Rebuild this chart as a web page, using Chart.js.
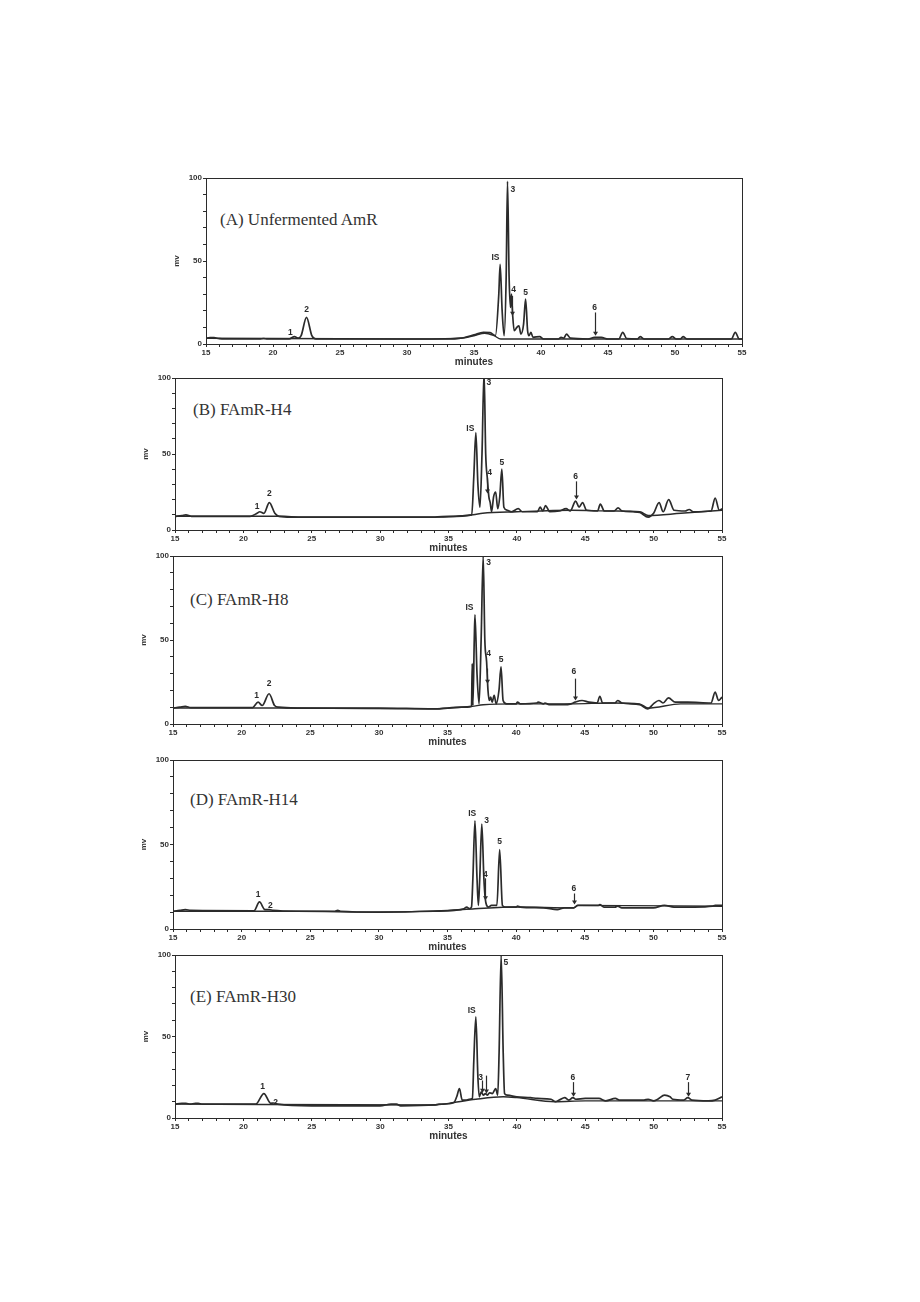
<!DOCTYPE html>
<html>
<head>
<meta charset="utf-8">
<script src="https://cdn.jsdelivr.net/npm/chart.js@4.4.1/dist/chart.umd.min.js"></script>
<style>
  body { margin: 0; background: #fff; width: 920px; height: 1302px; position: relative; overflow: hidden; }
  canvas { position: absolute; }
  .ttl { position: absolute; font-family: 'Liberation Serif', 'Times New Roman', serif; font-size: 17px; color: #333; white-space: nowrap; line-height: 1; }
</style>
</head>
<body>
<div class="ttl" id="ttl-a">(A) Unfermented AmR</div>
<div class="ttl" id="ttl-b">(B) FAmR-H4</div>
<div class="ttl" id="ttl-c">(C) FAmR-H8</div>
<div class="ttl" id="ttl-d">(D) FAmR-H14</div>
<div class="ttl" id="ttl-e">(E) FAmR-H30</div>
<canvas id="chart-a"></canvas>
<canvas id="chart-b"></canvas>
<canvas id="chart-c"></canvas>
<canvas id="chart-d"></canvas>
<canvas id="chart-e"></canvas>
<script>
// 軸
const xTicks = [15, 20, 25, 30, 35, 40, 45, 50, 55];
const yTicks = [0, 50, 100];

// (A) Unfermented AmR
const timeA = [15, 15.3, 15.6, 16, 17, 19, 19.3, 19.6, 21.2, 21.6, 21.9, 22.1, 22.5, 22.9, 23.2, 28, 33, 34, 35, 35.7, 36.2, 36.6, 36.85, 36.95, 37.1, 37.25, 37.4, 37.5, 37.62, 37.72, 37.8, 37.88, 38, 38.2, 38.35, 38.5, 38.7, 38.85, 39, 39.1, 39.25, 39.4, 39.9, 40.2, 41.3, 41.5, 41.7, 41.9, 42.2, 43.5, 44, 44.5, 45, 45.8, 46.1, 46.4, 47.2, 47.4, 47.7, 49.5, 49.8, 50.1, 50.4, 50.6, 50.9, 54.2, 54.5, 54.8, 55];
const mvA   = [3.5, 3.8, 3.8, 3.2, 3, 3, 3.3, 3, 3, 4.5, 3.5, 5, 16, 5, 3, 3, 3, 3.5, 5.5, 7, 6.8, 5, 30, 48, 20, 5, 40, 98, 40, 22, 30, 18, 8, 10, 11, 6, 12, 27, 8, 5, 7, 4, 4.5, 3, 3, 4, 3.5, 6, 3.5, 3, 4, 4, 3, 3, 7, 3.2, 3, 4.5, 3, 3, 4.5, 3, 3, 4.5, 3, 3, 7, 3, 3];
const baseTimeA = [15, 30, 34, 35, 35.8, 36.5, 37, 55];
const baseMvA   = [3.5, 3, 3.5, 5, 6.5, 5, 3, 3];
const peakNamesA = ['1', '2', 'IS', '3', '4', '5', '6'];
const peakTimeA  = [21.3, 22.5, 36.6, 37.9, 37.95, 38.85, 44.0];
const peakMvA    = [7, 20.5, 52, 93, 33, 31, 22];
const arrowTimeA = [37.85, 44.0];
const arrowFromA = [29, 19];
const arrowToA   = [17, 5];

// (B) FAmR-H4
const timeB = [15, 15.5, 15.8, 16.2, 20.5, 21, 21.2, 21.5, 21.9, 22.3, 22.6, 23.5, 30, 34, 35, 36.7, 36.85, 37, 37.15, 37.3, 37.45, 37.6, 37.72, 37.85, 37.95, 38.05, 38.15, 38.3, 38.45, 38.6, 38.75, 38.9, 39.05, 39.3, 39.6, 40.1, 40.4, 41.5, 41.7, 41.9, 42.1, 42.4, 43.1, 43.6, 43.9, 44.3, 44.55, 44.8, 45.1, 45.9, 46.1, 46.4, 47.1, 47.4, 47.7, 48.5, 49, 49.6, 50, 50.4, 50.7, 51.1, 51.5, 52.3, 52.6, 52.9, 54.2, 54.5, 54.8, 55];
const mvB   = [9, 9.5, 10, 9, 9, 11, 12, 11, 18, 11, 9, 8.5, 8.5, 8.5, 9, 10, 35, 64, 30, 15, 50, 104, 50, 33, 22, 18, 12, 22, 25, 14, 22, 40, 15, 13, 12, 14, 12, 12, 15, 12.5, 16, 12, 12.5, 14, 12.5, 19, 15, 18, 13, 12.5, 17, 12.5, 12.5, 14.5, 12.5, 12, 11.5, 8.5, 11, 18, 12, 20, 13, 12.5, 13.5, 12, 12.5, 21, 13, 14];
const baseTimeB = [15, 23, 24, 34, 36.8, 37.5, 40, 44, 47, 49, 49.6, 52, 55];
const baseMvB   = [9, 9, 8.5, 8.5, 10, 11, 12, 13, 12.5, 12, 9.5, 11, 13];
const peakNamesB = ['1', '2', 'IS', '3', '4', '5', '6'];
const peakTimeB  = [21.0, 21.9, 36.6, 37.95, 38.0, 38.9, 44.3];
const peakMvB    = [15.5, 24, 67, 97, 38, 44.5, 35];
const arrowTimeB = [37.85, 44.3];
const arrowFromB = [34, 32];
const arrowToB   = [24, 20];

// (C) FAmR-H8
const timeC = [15, 15.5, 15.9, 16.3, 20.8, 21.2, 21.5, 22, 22.4, 22.7, 24, 30, 34, 36, 36.75, 36.8, 36.85, 36.95, 37, 37.15, 37.3, 37.45, 37.6, 37.72, 37.85, 37.95, 38.05, 38.15, 38.25, 38.4, 38.55, 38.75, 38.9, 39.05, 39.3, 40, 40.1, 40.3, 41.5, 41.6, 42, 42.1, 42.4, 43.5, 44, 44.3, 44.8, 45.3, 45.9, 46.1, 46.3, 47.2, 47.4, 47.7, 49, 49.6, 50, 50.4, 50.7, 51.1, 51.6, 52.5, 54.2, 54.5, 54.75, 55];
const mvC   = [9.5, 10, 10.5, 9.8, 9.8, 13, 11, 18, 11, 10, 9.5, 9.5, 9, 10, 10.5, 36, 11, 50, 65, 30, 12, 50, 100, 50, 37, 20, 14, 16, 13, 17, 12, 20, 34, 14, 12, 12, 13, 12, 12.5, 13, 12, 12.5, 11.5, 11.5, 12, 13, 14, 13, 12.5, 16.5, 12.5, 12.5, 14, 12.5, 11.5, 9, 12, 14, 12.5, 15.5, 13, 13, 12.5, 19, 14, 16];
const baseTimeC = [15, 24, 34, 36, 36.8, 37.6, 40, 44, 47, 49, 49.6, 52, 55];
const baseMvC   = [9.5, 9.5, 9, 10, 10.5, 11.5, 12, 12, 12.5, 12, 9.5, 12, 12];
const peakNamesC = ['1', '2', 'IS', '3', '4', '5', '6'];
const peakTimeC  = [21.1, 22.0, 36.6, 38.0, 38.0, 38.9, 44.2];
const peakMvC    = [17, 24, 69, 96, 42, 38.5, 31];
const arrowTimeC = [37.9, 44.3];
const arrowFromC = [33, 27];
const arrowToC   = [24, 14];

// (D) FAmR-H14
const timeD = [15, 15.5, 15.9, 16.3, 20.9, 21.3, 21.7, 22, 22.3, 24, 26.8, 27, 27.2, 30, 34, 35.5, 36.2, 36.4, 36.6, 36.75, 36.85, 37, 37.15, 37.25, 37.35, 37.5, 37.65, 37.75, 37.85, 38, 38.2, 38.4, 38.6, 38.8, 39, 39.2, 40, 40.1, 40.3, 42, 43, 43.5, 44.2, 44.5, 46, 46.1, 46.4, 47.2, 47.4, 47.7, 49, 50, 50.8, 51.5, 53, 54.3, 54.5, 55];
const mvD   = [10.5, 11, 11.5, 11, 10.8, 16, 11.5, 11.5, 11, 10.5, 10.5, 11, 10.5, 10, 10.5, 11, 12, 13, 12, 13, 30, 64, 30, 14, 30, 62, 30, 18, 14, 13, 14, 14, 14, 47, 14, 13, 13, 13.5, 13, 12.5, 11.5, 12.5, 12.5, 14, 14, 14.5, 13, 13, 13.5, 12.5, 12.5, 12.5, 14, 13, 13, 13.5, 14, 14];
const baseTimeD = [15, 24, 30, 35, 37, 40, 44.2, 44.5, 55];
const baseMvD   = [10.5, 10.5, 10, 11, 12, 13, 12.5, 14, 13.5];
const peakNamesD = ['1', '2', 'IS', '3', '4', '5', '6'];
const peakTimeD  = [21.2, 22.1, 36.8, 37.85, 37.75, 38.8, 44.2];
const peakMvD    = [20.5, 14, 68.5, 64, 32, 51.5, 24];
const arrowTimeD = [37.75, 44.2];
const arrowFromD = [30, 21];
const arrowToD   = [17, 14.5];

// (E) FAmR-H30
const timeE = [15, 15.5, 15.8, 16.1, 16.5, 16.7, 17, 20.9, 21.5, 22, 22.2, 22.5, 25, 30, 30.8, 31.2, 31.5, 34, 34.3, 34.6, 35.4, 35.6, 35.8, 36, 36.3, 36.5, 36.75, 36.85, 37, 37.15, 37.25, 37.4, 37.55, 37.7, 37.85, 38, 38.2, 38.45, 38.6, 38.7, 38.85, 39, 39.1, 39.3, 40, 41, 41.5, 42.5, 42.8, 43.1, 43.5, 43.8, 44.1, 44.3, 45, 46, 46.5, 47.2, 47.5, 49.3, 49.6, 50, 50.3, 50.8, 51.2, 51.4, 52.2, 52.5, 52.8, 54, 54.5, 55];
const mvE   = [8.5, 9, 9, 8.5, 9, 9, 8.5, 8.5, 15, 9, 9.2, 8.5, 7.5, 7.5, 8.5, 8.5, 7.5, 8, 8.5, 8.5, 9.5, 13, 18, 11, 11, 11.5, 12, 35, 62, 25, 13, 16, 14, 15, 14, 15.5, 15, 18, 14, 40, 100, 40, 15, 14, 13, 12.5, 12, 11.5, 10, 11, 12.5, 11, 12.5, 11.5, 12, 12, 10.5, 12, 11, 11, 11.5, 10.5, 11.5, 14, 13, 11.5, 11, 12.5, 11, 10.5, 11, 13];
const baseTimeE = [15, 34, 35, 37, 39, 40, 42.8, 45, 55];
const baseMvE   = [8.5, 8, 9, 11.5, 13, 12.5, 10, 10.5, 10.5];
const peakNamesE = ['1', '2', 'IS', '3', '5', '6', '7'];
const peakTimeE  = [21.4, 22.35, 36.7, 37.35, 39.2, 44.1, 52.5];
const peakMvE    = [19, 9.5, 66, 25, 95, 25, 25];
const arrowTimeE = [37.45, 37.75, 44.1, 52.5];
const arrowFromE = [23, 26, 22, 22];
const arrowToE   = [15.5, 15, 13, 13];

// レイアウト (プロット領域の位置)
const panels = [
    { id: 'chart-a', ttl: 'ttl-a', l: 206, r: 742, t: 178, b: 344, tx: 220, ty: 211,
      time: timeA, mv: mvA, bt: baseTimeA, bm: baseMvA, pn: peakNamesA, pt: peakTimeA, pm: peakMvA, at: arrowTimeA, af: arrowFromA, ato: arrowToA },
    { id: 'chart-b', ttl: 'ttl-b', l: 175, r: 722, t: 378, b: 530, tx: 193, ty: 401,
      time: timeB, mv: mvB, bt: baseTimeB, bm: baseMvB, pn: peakNamesB, pt: peakTimeB, pm: peakMvB, at: arrowTimeB, af: arrowFromB, ato: arrowToB },
    { id: 'chart-c', ttl: 'ttl-c', l: 173, r: 722, t: 556, b: 724, tx: 190, ty: 591,
      time: timeC, mv: mvC, bt: baseTimeC, bm: baseMvC, pn: peakNamesC, pt: peakTimeC, pm: peakMvC, at: arrowTimeC, af: arrowFromC, ato: arrowToC },
    { id: 'chart-d', ttl: 'ttl-d', l: 173, r: 722, t: 760, b: 929, tx: 190, ty: 791,
      time: timeD, mv: mvD, bt: baseTimeD, bm: baseMvD, pn: peakNamesD, pt: peakTimeD, pm: peakMvD, at: arrowTimeD, af: arrowFromD, ato: arrowToD },
    { id: 'chart-e', ttl: 'ttl-e', l: 175, r: 722, t: 955, b: 1118, tx: 190, ty: 988,
      time: timeE, mv: mvE, bt: baseTimeE, bm: baseMvE, pn: peakNamesE, pt: peakTimeE, pm: peakMvE, at: arrowTimeE, af: arrowFromE, ato: arrowToE }
];

const PAD_L = 42, PAD_T = 8, PAD_R = 12, PAD_B = 25;
const INK = '#2b2b2b';

// 枠線
const framePlugin = {
    id: 'frame',
    afterDraw(chart) {
        const { ctx, chartArea: a } = chart;
        ctx.save();
        ctx.strokeStyle = INK;
        ctx.lineWidth = 1;
        ctx.strokeRect(Math.round(a.left) + 0.5, Math.round(a.top) + 0.5, Math.round(a.right - a.left), Math.round(a.bottom - a.top));
        ctx.restore();
    }
};

// ピーク名と矢印
const peakPlugin = {
    id: 'peaks',
    afterDatasetsDraw(chart, args, opts) {
        const { ctx, scales: { x, y } } = chart;
        ctx.save();
        ctx.fillStyle = INK;
        ctx.strokeStyle = INK;
        ctx.font = 'bold 8.5px "Liberation Sans", Arial, sans-serif';
        ctx.textAlign = 'center';
        ctx.textBaseline = 'middle';
        opts.names.forEach((n, i) => {
            ctx.fillText(n, x.getPixelForValue(opts.times[i]), y.getPixelForValue(opts.mvs[i]));
        });
        ctx.lineWidth = 1.2;
        opts.arrowTimes.forEach((t, i) => {
            const px = Math.round(x.getPixelForValue(t)) + 0.5;
            const y1 = y.getPixelForValue(opts.arrowFrom[i]);
            const y2 = y.getPixelForValue(opts.arrowTo[i]);
            ctx.beginPath();
            ctx.moveTo(px, y1);
            ctx.lineTo(px, y2 - 3);
            ctx.stroke();
            ctx.beginPath();
            ctx.moveTo(px - 2.5, y2 - 4);
            ctx.lineTo(px + 2.5, y2 - 4);
            ctx.lineTo(px, y2);
            ctx.closePath();
            ctx.fill();
        });
        ctx.restore();
    }
};

const tickFont = { family: '"Liberation Sans", Arial, sans-serif', size: 8, weight: 'bold' };

panels.forEach(p => {
    const cv = document.getElementById(p.id);
    const w = p.r - p.l + PAD_L + PAD_R;
    const h = p.b - p.t + PAD_T + PAD_B;
    cv.width = w;
    cv.height = h;
    cv.style.left = (p.l - PAD_L) + 'px';
    cv.style.top = (p.t - PAD_T) + 'px';
    cv.style.width = w + 'px';
    cv.style.height = h + 'px';

    const ttl = document.getElementById(p.ttl);
    ttl.style.left = p.tx + 'px';
    ttl.style.top = p.ty + 'px';

    new Chart(cv.getContext('2d'), {
        type: 'line',
        data: {
            datasets: [
                {
                    data: p.time.map((t, i) => ({ x: t, y: p.mv[i] })),
                    borderColor: INK, borderWidth: 1.7, pointRadius: 0,
                    cubicInterpolationMode: 'monotone', fill: false
                },
                {
                    data: p.bt.map((t, i) => ({ x: t, y: p.bm[i] })),
                    borderColor: INK, borderWidth: 1.4, pointRadius: 0,
                    cubicInterpolationMode: 'monotone', fill: false
                }
            ]
        },
        options: {
            responsive: false,
            animation: false,
            devicePixelRatio: 1,
            layout: { padding: { top: PAD_T, right: PAD_R, left: 0, bottom: 0 } },
            plugins: {
                legend: { display: false },
                tooltip: { enabled: false },
                peaks: { names: p.pn, times: p.pt, mvs: p.pm, arrowTimes: p.at, arrowFrom: p.af, arrowTo: p.ato }
            },
            scales: {
                x: {
                    type: 'linear', min: 15, max: 55,
                    afterFit: s => { s.height = PAD_B; },
                    ticks: {
                        stepSize: 1, autoSkip: false, maxRotation: 0, padding: 1,
                        color: '#333', font: tickFont,
                        callback: v => xTicks.includes(v) ? String(v) : ''
                    },
                    grid: { drawOnChartArea: false, tickLength: 3, color: INK },
                    border: { color: INK },
                    title: {
                        display: true, text: 'minutes', color: '#333',
                        font: { family: '"Liberation Sans", Arial, sans-serif', size: 10, weight: 'bold' },
                        padding: { top: 0, bottom: 1 }
                    }
                },
                y: {
                    type: 'linear', min: 0, max: 100,
                    afterFit: s => { s.width = PAD_L; },
                    ticks: {
                        stepSize: 10, padding: 1, color: '#333', font: tickFont,
                        callback: v => yTicks.includes(v) ? String(v) : ''
                    },
                    grid: { drawOnChartArea: false, tickLength: 3, color: INK },
                    border: { color: INK },
                    title: {
                        display: true, text: 'mv', color: '#333',
                        font: { family: '"Liberation Sans", Arial, sans-serif', size: 8, weight: 'bold' },
                        padding: { top: 8, bottom: 0 }
                    }
                }
            }
        },
        plugins: [framePlugin, peakPlugin]
    });
});
</script>
</body>
</html>
